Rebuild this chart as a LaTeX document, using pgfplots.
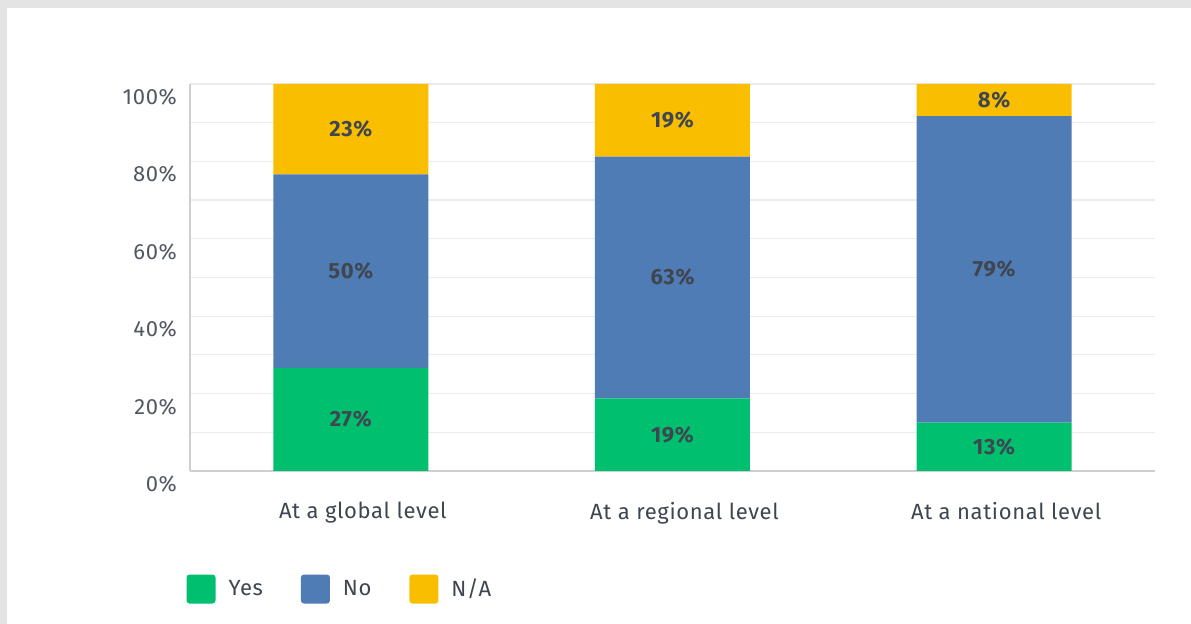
\documentclass[border=0pt]{standalone}
\usepackage{fontspec}
\setmainfont{Fira Sans}[LetterSpace=3]
\usepackage{pgfplots}
\usepackage{pgfplotstable}
\pgfplotsset{compat=1.18}
\definecolor{cyes}{HTML}{00BF6F}
\definecolor{cno}{HTML}{507CB6}
\definecolor{cna}{HTML}{F9BE00}
\definecolor{txt}{HTML}{3F4650}
\definecolor{gridc}{HTML}{EBEBEB}
\definecolor{axl}{HTML}{CFCFCF}
\definecolor{bg}{HTML}{E4E4E4}

\pgfplotstableread{
x yes no na
0 26.67 50.00 23.33
1 18.75 62.50 18.75
2 12.50 79.17 8.33
}\bars

\pgfplotstableread{
x y lab
0 13.33 27
0 51.67 50
0 88.33 23
1 9.38 19
1 50.00 63
1 90.63 19
2 6.25 13
2 52.08 79
2 95.83 8
}\labels

\pgfplotsset{sqleg/.style={legend image code/.code={\fill[##1,draw=none,rounded corners=1.5pt] (0pt,-7.25pt) rectangle (14.5pt,7.25pt);}}}

\begin{document}
\begin{tikzpicture}[x=1pt,y=1pt]
\useasboundingbox (0,0) rectangle (595.5,312);
\fill[bg] (0,0) rectangle (595.5,312);
\fill[white] (3.5,0) rectangle (595.5,308);
\begin{axis}[
  at={(95pt,76.5pt)}, anchor=south west,
  scale only axis, width=482.5pt, height=193.5pt,
  xmin=-0.5, xmax=2.5, ymin=0, ymax=100,
  ybar stacked, bar width=77.5pt,
  axis lines*=left,
  axis line style={-, axl, line width=0.7pt},
  /pgf/number format/assume math mode=true,
  xtick={0,1,2},
  xticklabels={At a global level, At a regional level, At a national level},
  ytick={0,20,...,100},
  yticklabel={\pgfmathprintnumber{\tick}\%},
  minor ytick={10,30,50,70,90},
  ymajorgrids, yminorgrids,
  major grid style={gridc, line width=0.6pt},
  minor grid style={gridc, line width=0.6pt},
  major tick length=0pt, minor tick length=0pt,
  tick style={draw=none},
  yticklabel style={font=\fontsize{11}{13}\selectfont, text=txt!90, yshift=-6.5pt, xshift=-3pt},
  xticklabel style={font=\fontsize{11}{13}\selectfont, text=txt, yshift=-12pt, xshift=6pt},
  legend columns=-1,
  legend style={draw=none, fill=none, at={(-0.004,-0.305)}, anchor=west,
    inner sep=0pt, font=\fontsize{11}{13}\selectfont, text=txt,
    /tikz/every odd column/.append style={column sep=4.5pt},
    /tikz/every even column/.append style={column sep=17pt}},
  legend cell align=left,
]
\addplot[fill=cyes, draw=none, sqleg] table[x=x, y=yes] \bars;
\addplot[fill=cno, draw=none, sqleg] table[x=x, y=no] \bars;
\addplot[fill=cna, draw=none, sqleg] table[x=x, y=na] \bars;
\legend{Yes, No, N/A}
\end{axis}
\begin{axis}[
  at={(95pt,76.5pt)}, anchor=south west,
  scale only axis, width=482.5pt, height=193.5pt,
  xmin=-0.5, xmax=2.5, ymin=0, ymax=100,
  hide axis,
]
\addplot[draw=none, mark=none, point meta=explicit symbolic,
  nodes near coords={\pgfplotspointmeta\%},
  every node near coord/.append style={anchor=center, font=\fontsize{11}{13}\selectfont\bfseries, text=txt}]
  table[x=x, y=y, meta=lab] \labels;
\end{axis}
\end{tikzpicture}
\end{document}
